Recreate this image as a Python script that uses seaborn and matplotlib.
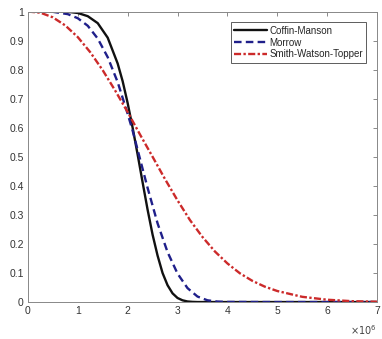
import numpy as np
import pandas as pd
import matplotlib
matplotlib.use("Agg")
import matplotlib.pyplot as plt
import seaborn as sns

# x in units of 1e6 cycles
x_cm = [0, 0.5, 0.8, 1.0, 1.2, 1.4, 1.6, 1.8, 1.9, 2.0, 2.1, 2.2, 2.3, 2.4, 2.5,
        2.6, 2.7, 2.8, 2.9, 3.0, 3.1, 3.2, 3.3, 3.4, 4.0, 5.0, 6.0, 7.0]
y_cm = [1.0, 1.0, 0.999, 0.995, 0.984, 0.960, 0.910, 0.821, 0.760, 0.685, 0.600,
        0.508, 0.412, 0.318, 0.232, 0.160, 0.100, 0.058, 0.030, 0.014, 0.006,
        0.002, 0.0006, 0.0, 0.0, 0.0, 0.0, 0.0]

x_mo = [0, 0.5, 0.8, 1.0, 1.2, 1.4, 1.6, 1.8, 2.0, 2.1, 2.2, 2.4, 2.6, 2.8, 3.0,
        3.2, 3.4, 3.6, 3.8, 4.0, 5.0, 6.0, 7.0]
y_mo = [1.0, 0.999, 0.991, 0.977, 0.951, 0.907, 0.843, 0.757, 0.648, 0.590,
        0.524, 0.393, 0.271, 0.172, 0.098, 0.048, 0.019, 0.006, 0.0016, 0.0004,
        0.0, 0.0, 0.0]

x_swt = [0, 0.25, 0.5, 0.75, 1.0, 1.25, 1.5, 1.75, 2.0, 2.25, 2.5, 2.75, 3.0,
         3.25, 3.5, 3.75, 4.0, 4.25, 4.5, 4.75, 5.0, 5.5, 6.0, 6.5, 7.0]
y_swt = [1.0, 0.996, 0.980, 0.952, 0.912, 0.860, 0.798, 0.728, 0.654, 0.576,
         0.500, 0.423, 0.350, 0.282, 0.224, 0.174, 0.133, 0.099, 0.073, 0.053,
         0.038, 0.018, 0.008, 0.003, 0.001]

labels = ["Coffin-Manson", "Morrow", "Smith-Watson-Topper"]
x_ticks = [0, 1, 2, 3, 4, 5, 6, 7]
y_ticks = [0, 0.1, 0.2, 0.3, 0.4, 0.5, 0.6, 0.7, 0.8, 0.9, 1]
y_ticklabels = ["0", "0.1", "0.2", "0.3", "0.4", "0.5", "0.6", "0.7", "0.8", "0.9", "1"]

sns.set_style("white")
plt.rcParams['font.family'] = ['Liberation Sans', 'DejaVu Sans']

fig = plt.figure(figsize=(3.82, 3.39), dpi=100)
ax = fig.add_axes([0.073, 0.109, 0.914, 0.857])

df = pd.concat([
    pd.DataFrame({"x": x_cm, "y": y_cm, "model": labels[0]}),
    pd.DataFrame({"x": x_mo, "y": y_mo, "model": labels[1]}),
    pd.DataFrame({"x": x_swt, "y": y_swt, "model": labels[2]}),
])

colors = {labels[0]: "#111111", labels[1]: "#1f1f8a", labels[2]: "#cc2a2a"}
styles = {labels[0]: "-", labels[1]: (0, (3.2, 1.8)), labels[2]: (0, (3, 1, 1, 1))}

for lab in labels:
    sub = df[df["model"] == lab]
    sns.lineplot(data=sub, x="x", y="y", ax=ax, color=colors[lab],
                 linestyle=styles[lab], linewidth=1.7, label=lab,
                 estimator=None, sort=False)

ax.set_xlim(0, 7)
ax.set_ylim(0, 1)
ax.set_xticks(x_ticks)
ax.set_xticklabels([str(t) for t in x_ticks])
ax.set_yticks(y_ticks)
ax.set_yticklabels(y_ticklabels)
ax.set_xlabel("")
ax.set_ylabel("")
ax.tick_params(direction="in", length=3, width=0.6, colors="#777777",
               labelcolor="#333333", labelsize=7.5, top=True, right=True,
               pad=3)
for s in ax.spines.values():
    s.set_color("#888888")
    s.set_linewidth(0.7)

ax.text(1.0, -0.072, r"$\times 10^6$", transform=ax.transAxes, ha="right",
        va="top", fontsize=7, color="#444444")

leg = ax.legend(loc="upper right", bbox_to_anchor=(0.975, 0.97), fontsize=7.0,
                frameon=True, fancybox=False, handlelength=3.4,
                handletextpad=0.2, borderpad=0.35, labelspacing=0.2,
                borderaxespad=0.2)
leg.get_frame().set_edgecolor("#333333")
leg.get_frame().set_linewidth(0.7)

fig.savefig("out.png", dpi=100)
